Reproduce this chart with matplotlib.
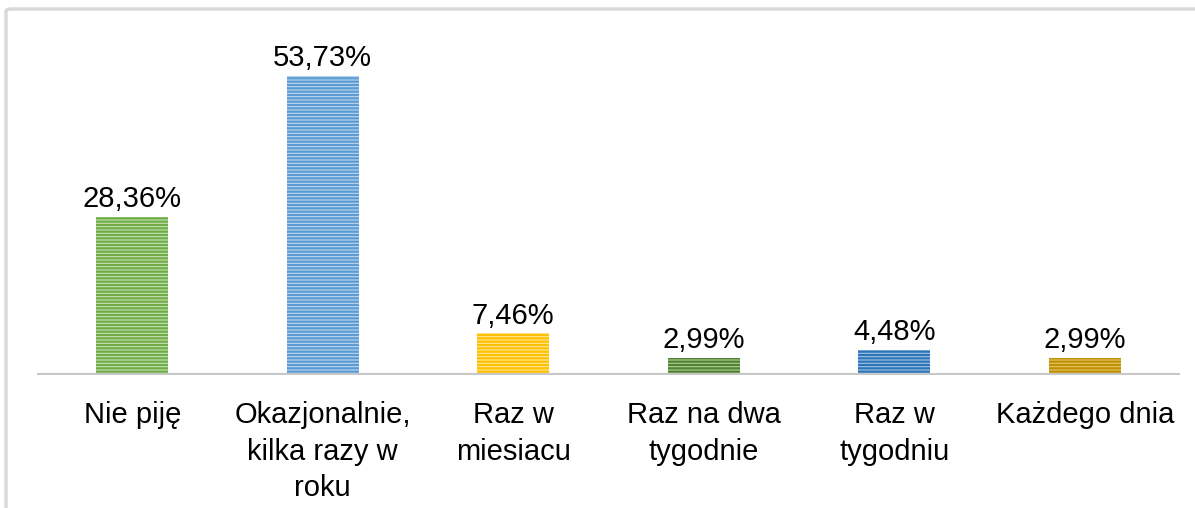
import matplotlib
matplotlib.use("Agg")
import matplotlib.pyplot as plt
from matplotlib.patches import FancyBboxPatch

categories = ["Nie piję", "Okazjonalnie,\nkilka razy w\nroku", "Raz w\nmiesiacu",
              "Raz na dwa\ntygodnie", "Raz w\ntygodniu", "Każdego dnia"]
values = [28.36, 53.73, 7.46, 2.99, 4.48, 2.99]
labels = ["28,36%", "53,73%", "7,46%", "2,99%", "4,48%", "2,99%"]
edge_colors = ["#70ad47", "#5b9bd5", "#ffc000", "#548235", "#2e75b6", "#bf9000"]
face_colors = ["#c5e0b4", "#bdd7ee", "#ffe699", "#a9d18e", "#9dc3e6", "#e2c66b"]

plt.rcParams["font.family"] = ["Liberation Sans", "DejaVu Sans"]
plt.rcParams["hatch.linewidth"] = 1.6

W, H = 1195, 508
fig = plt.figure(figsize=(W / 100, H / 100), dpi=100)

# outer chart frame (cut off at right and bottom)
frame = FancyBboxPatch((6 / W, -0.2), 1.2, 1 - 9 / H + 0.2,
                       boxstyle="round,pad=0,rounding_size=0.005",
                       transform=fig.transFigure, facecolor="none",
                       edgecolor="#d9d9d9", linewidth=2.5, clip_on=False)
fig.patches.append(frame)

x0, x1, ybase, ytop = 37, 1180, 375, 41
ax = fig.add_axes([x0 / W, (H - ybase) / H, (x1 - x0) / W, (ybase - ytop) / H])
ax.set_xlim(-0.5, len(values) - 0.5)
ax.set_ylim(0, 60)

for i, (v, lab) in enumerate(zip(values, labels)):
    ax.bar(i, v, width=0.38, color=face_colors[i], edgecolor=edge_colors[i],
           hatch="-----", linewidth=0)
    ax.text(i, v + 0.7, lab, ha="center", va="bottom", fontsize=21, color="#000000")

ax.axhline(0, color="#c8c8c8", linewidth=3)
for s in ax.spines.values():
    s.set_visible(False)
ax.set_yticks([])
ax.set_xticks(range(len(categories)))
ax.set_xticklabels(categories, fontsize=21, linespacing=1.38)
ax.tick_params(axis="x", length=0, pad=19)

fig.savefig("out.png", dpi=100)
